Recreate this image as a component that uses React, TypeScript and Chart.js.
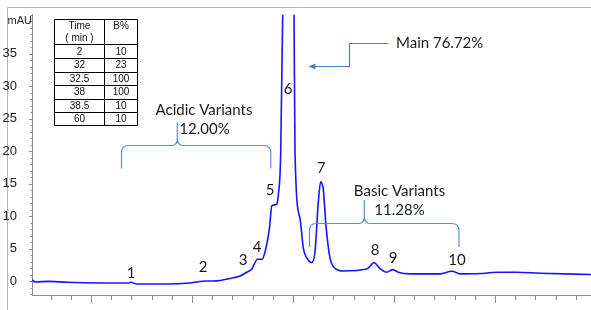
import React, { useEffect, useRef } from 'react';
import { Chart, registerables } from 'chart.js';

Chart.register(...registerables);

// Retention time (min) and absorbance (mAU)
const retentionTimes = [
  2.08, 2.23, 2.97, 3.80, 5.45, 6.85, 6.97, 7.26, 8.75, 9.90, 10.73, 11.06, 12.05, 12.38, 12.71,
  12.96, 13.24, 13.46, 13.62, 13.83, 13.95, 14.19, 14.27, 14.39, 14.49, 14.58, 14.67, 14.77, 14.87,
  14.96, 15.05, 15.10, 15.35, 15.51, 15.68, 15.93, 16.09, 16.25, 16.37, 16.50, 16.63, 16.83, 17.08,
  17.49, 18.65, 19.01, 19.31, 19.64, 19.94, 20.21, 20.79, 22.28, 22.87, 23.27, 24.26, 25.08, 26.07,
  27.23, 29.75,
];
const absorbance = [
  0.25, -0.10, 0.0, -0.15, -0.25, -0.25, -0.15, -0.40, -0.40, -0.25, 0.05, 0.05, 0.55, 0.83, 1.40,
  1.90, 3.40, 3.40, 4.60, 8.10, 11.60, 11.85, 13.20, 19.60, 41.0, 75, 120, 140, 120,
  75, 41, 19.6, 9.6, 5.1, 3.6, 2.9, 4.6, 12.1, 15.3, 14.1, 8.6, 3.6, 2.0,
  1.6, 1.9, 2.85, 1.95, 1.4, 1.8, 1.4, 1.15, 1.15, 1.55, 1.15, 1.2, 1.4, 1.4,
  1.25, 1.05,
];

// Gradient table
const gradientTimes = ['2', '32', '32.5', '38', '38.5', '60'];
const gradientB = ['10', '23', '100', '100', '10', '10'];

// Peak numbers and annotation texts
const peakNumbers = ['1', '2', '3', '4', '5', '6', '7', '8', '9', '10'];
const yAxisUnit = 'mAU';
const acidicTexts = ['Acidic Variants', '12.00%'];
const basicTexts = ['Basic Variants', '11.28%'];
const mainText = 'Main 76.72%';

const Y_MIN = -2.1;
const Y_MAX = 41;
const X_MIN = 2.08;
const X_MAX = 29.75;

const ANNOT_FONT = '15px Lato, "Open Sans", sans-serif';
const AXIS_FONT_FAMILY = '"Liberation Sans", Arial, sans-serif';

const decorPlugin = {
  id: 'decor',
  beforeDraw(chart: any) {
    const ctx = chart.ctx;
    ctx.save();
    ctx.fillStyle = '#ffffff';
    ctx.fillRect(0, 0, chart.width, chart.height);
    ctx.strokeStyle = '#b4b4b4';
    ctx.lineWidth = 1;
    ctx.beginPath();
    ctx.moveTo(7.5, 7.5);
    ctx.lineTo(chart.width, 7.5);
    ctx.moveTo(7.5, 7.5);
    ctx.lineTo(7.5, chart.height);
    ctx.stroke();
    ctx.restore();
  },
  afterDraw(chart: any) {
    const ctx = chart.ctx;
    const xs = chart.scales.x;
    const ys = chart.scales.y;
    const area = chart.chartArea;
    ctx.save();

    // tick marks
    ctx.strokeStyle = '#8c8c8c';
    ctx.lineWidth = 1;
    ctx.beginPath();
    for (let t = Math.ceil(xs.min); t <= Math.floor(xs.max); t++) {
      const px = Math.round(xs.getPixelForValue(t)) + 0.5;
      const len = t % 5 === 0 ? 8 : 5;
      ctx.moveTo(px, area.bottom);
      ctx.lineTo(px, area.bottom + len);
    }
    for (let v = Math.ceil(ys.min); v <= Math.floor(ys.max); v++) {
      const py = Math.round(ys.getPixelForValue(v)) + 0.5;
      const len = v % 5 === 0 ? 3 : 1.5;
      ctx.moveTo(area.left, py);
      ctx.lineTo(area.left - len, py);
    }
    ctx.stroke();

    // unit label at the 40 position
    ctx.fillStyle = '#222';
    ctx.font = `11px ${AXIS_FONT_FAMILY}`;
    ctx.textAlign = 'right';
    ctx.textBaseline = 'middle';
    ctx.fillText(yAxisUnit, area.left, ys.getPixelForValue(40));

    // gradient table
    const tl = 54.5, tm = 104.5, tr = 137.5;
    const top = 19.5, headBottom = 44.5, rowH = 13.5;
    const rows = gradientTimes.length;
    const bottom = headBottom + rows * rowH;
    ctx.fillStyle = '#ffffff';
    ctx.fillRect(tl, top, tr - tl, bottom - top);
    ctx.strokeStyle = '#000';
    ctx.lineWidth = 1;
    ctx.beginPath();
    ctx.rect(tl, top, tr - tl, bottom - top);
    ctx.moveTo(tm, top);
    ctx.lineTo(tm, bottom);
    ctx.moveTo(tl, headBottom);
    ctx.lineTo(tr, headBottom);
    for (let i = 1; i < rows; i++) {
      const yy = Math.round(headBottom + i * rowH) + 0.5;
      ctx.moveTo(tl, yy);
      ctx.lineTo(tr, yy);
    }
    ctx.stroke();
    ctx.fillStyle = '#111';
    ctx.font = `10px ${AXIS_FONT_FAMILY}`;
    ctx.textAlign = 'center';
    ctx.textBaseline = 'middle';
    const c1 = (tl + tm) / 2, c2 = (tm + tr) / 2;
    ctx.fillText('Time', c1, 26.5);
    ctx.fillText('( min )', c1, 38.5);
    ctx.fillText('B%', c2, 26.5);
    for (let i = 0; i < rows; i++) {
      const cy = headBottom + (i + 0.5) * rowH + 0.5;
      ctx.fillText(gradientTimes[i], c1, cy);
      ctx.fillText(gradientB[i], c2, cy);
    }

    // annotations (brackets / arrow)
    ctx.strokeStyle = '#5b8fd0';
    ctx.lineWidth = 1.2;
    ctx.beginPath();
    // acidic brace
    ctx.moveTo(121.5, 168.5);
    ctx.lineTo(121.5, 153);
    ctx.quadraticCurveTo(121.5, 145.5, 128, 145.5);
    ctx.lineTo(172, 145.5);
    ctx.quadraticCurveTo(177.3, 145.5, 177.3, 138);
    ctx.lineTo(177.3, 122.5);
    ctx.moveTo(177.3, 138);
    ctx.quadraticCurveTo(177.3, 145.5, 183, 145.5);
    ctx.lineTo(264, 145.5);
    ctx.quadraticCurveTo(270.8, 145.5, 270.8, 153);
    ctx.lineTo(270.8, 168.5);
    // basic brace
    ctx.moveTo(309.5, 247);
    ctx.lineTo(309.5, 231);
    ctx.quadraticCurveTo(309.5, 223.5, 316, 223.5);
    ctx.lineTo(359, 223.5);
    ctx.quadraticCurveTo(364.3, 223.5, 364.3, 216);
    ctx.lineTo(364.3, 200);
    ctx.moveTo(364.3, 216);
    ctx.quadraticCurveTo(364.3, 223.5, 370, 223.5);
    ctx.lineTo(452, 223.5);
    ctx.quadraticCurveTo(459, 223.5, 459, 231);
    ctx.lineTo(459, 247);
    ctx.stroke();

    // main arrow
    ctx.strokeStyle = '#4f7fc0';
    ctx.lineWidth = 1.2;
    ctx.beginPath();
    ctx.moveTo(388.5, 43.5);
    ctx.lineTo(349.5, 43.5);
    ctx.lineTo(349.5, 66.5);
    ctx.lineTo(313, 66.5);
    ctx.stroke();
    ctx.fillStyle = '#4f7fc0';
    ctx.beginPath();
    ctx.moveTo(308.5, 66.5);
    ctx.lineTo(315.5, 63.5);
    ctx.lineTo(315.5, 69.5);
    ctx.closePath();
    ctx.fill();

    // texts
    ctx.fillStyle = '#1a1a1a';
    ctx.font = ANNOT_FONT;
    ctx.textAlign = 'center';
    ctx.textBaseline = 'middle';
    ctx.fillText(acidicTexts[0], 204, 110);
    ctx.fillText(acidicTexts[1], 204.5, 129.5);
    ctx.fillText(basicTexts[0], 399.5, 191.5);
    ctx.fillText(basicTexts[1], 399.5, 210.5);
    ctx.textAlign = 'left';
    ctx.fillText(mainText, 396, 43.5);

    ctx.textAlign = 'center';
    const peakLabelPos = [
      [131, 273], [203, 267], [243, 260], [257, 247], [270, 190],
      [288, 89], [321, 168], [375, 250], [393, 258], [457, 260],
    ];
    peakNumbers.forEach((label, i) => {
      ctx.fillText(label, peakLabelPos[i][0], peakLabelPos[i][1]);
    });

    ctx.restore();
  },
};

export default function App() {
  const canvasRef = useRef<HTMLCanvasElement | null>(null);

  useEffect(() => {
    const canvas = canvasRef.current;
    if (!canvas) return;
    const points = retentionTimes.map((t, i) => ({ x: t, y: absorbance[i] }));
    const chart = new Chart(canvas, {
      type: 'line',
      data: {
        datasets: [
          {
            data: points,
            borderColor: '#1414ff',
            borderWidth: 1.6,
            pointRadius: 0,
            fill: false,
            cubicInterpolationMode: 'monotone',
            clip: 0,
          } as any,
        ],
      },
      options: {
        responsive: false,
        animation: false,
        devicePixelRatio: 1,
        layout: { padding: { top: 8, left: 0, right: 0, bottom: 0 } },
        plugins: {
          legend: { display: false },
          tooltip: { enabled: false },
        },
        scales: {
          x: {
            type: 'linear',
            min: X_MIN,
            max: X_MAX,
            grid: { display: false },
            border: { display: true, color: '#8c8c8c', width: 1 },
            ticks: { display: false, stepSize: 1 },
            afterFit(scale: any) {
              scale.height = 15;
            },
          },
          y: {
            type: 'linear',
            min: Y_MIN,
            max: Y_MAX,
            grid: { display: false },
            border: { display: true, color: '#8c8c8c', width: 1 },
            ticks: {
              stepSize: 5,
              includeBounds: false,
              padding: 7,
              color: '#222',
              font: { family: AXIS_FONT_FAMILY, size: 13 },
              callback: (v: any) => (Number(v) === 40 ? '' : String(v)),
            },
            afterFit(scale: any) {
              scale.width = 32;
            },
          },
        },
      },
      plugins: [decorPlugin],
    });
    return () => chart.destroy();
  }, []);

  return (
    <div style={{ position: 'fixed', left: 0, top: 0, width: 591, height: 310, background: '#fff' }}>
      <canvas ref={canvasRef} width={591} height={310} style={{ width: 591, height: 310, display: 'block' }} />
    </div>
  );
}
